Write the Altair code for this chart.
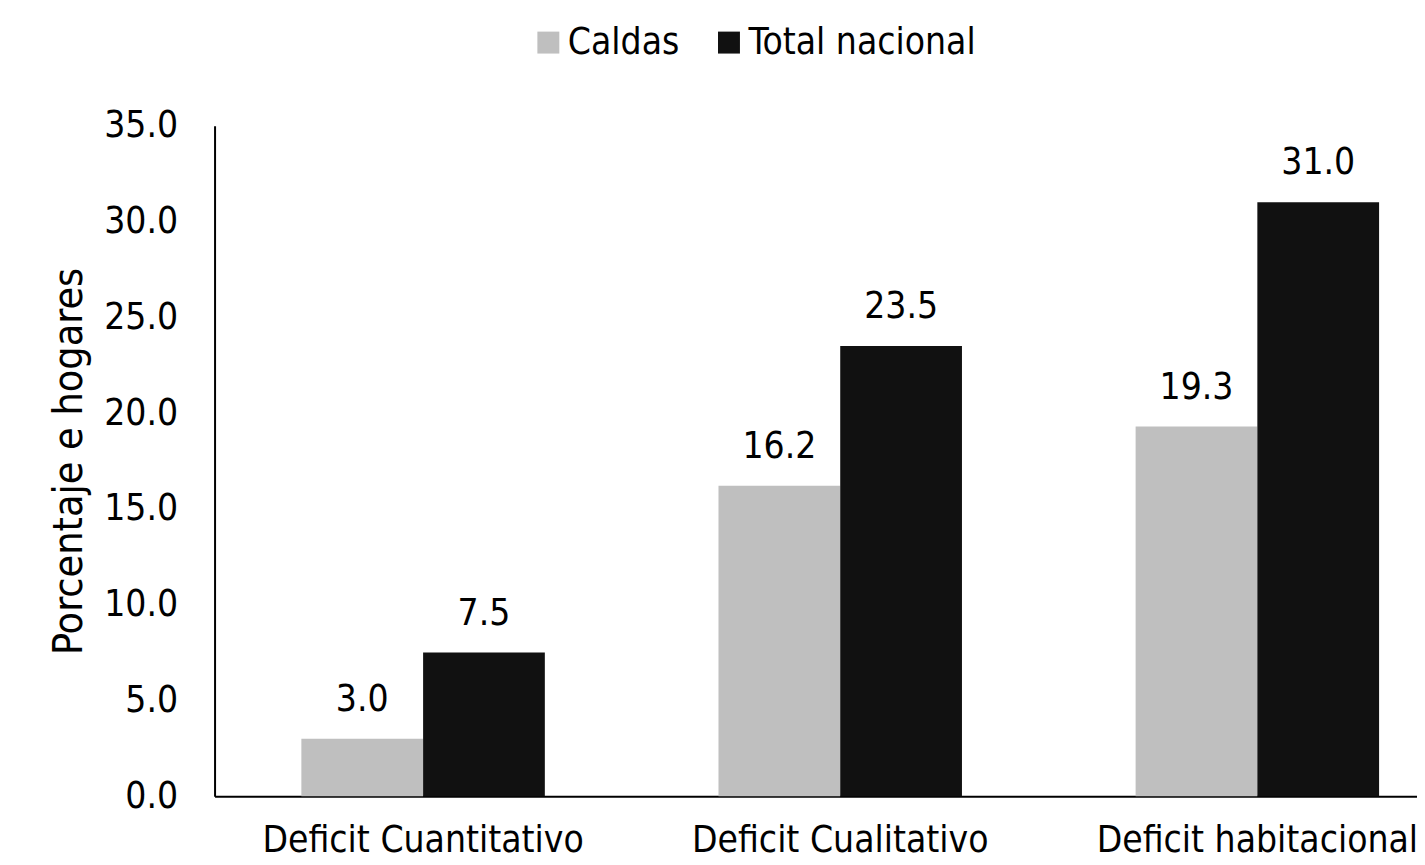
import altair as alt
import pandas as pd

categorias = ["Deficit Cuantitativo", "Deficit Cualitativo", "Deficit habitacional"]
series = ["Caldas", "Total nacional"]
caldas = [3.0, 16.2, 19.3]
total_nacional = [7.5, 23.5, 31.0]
colores = ["#BFBFBF", "#111111"]
y_ticks = [0, 5, 10, 15, 20, 25, 30, 35]

rows = []
for i, c in enumerate(categorias):
    rows.append({"cat": c, "serie": series[0], "valor": caldas[i]})
    rows.append({"cat": c, "serie": series[1], "valor": total_nacional[i]})
df = pd.DataFrame(rows)

FONT = "DejaVu Sans Condensed, Liberation Sans, sans-serif"
FS = 37

x_enc = alt.X(
    "cat:N",
    sort=categorias,
    title=None,
    scale=alt.Scale(paddingInner=0.4163, paddingOuter=0.1495, align=0.696),
    axis=alt.Axis(
        labelAngle=0,
        labelFontSize=FS,
        labelFont=FONT,
        labelColor="#000000",
        labelBaseline="alphabetic",
        labelPadding=55,
        ticks=False,
        tickSize=0,
        domainColor="#000000",
        domainWidth=2,
        grid=False,
        labelLimit=500,
    ),
)
xo_enc = alt.XOffset("serie:N", sort=series, scale=alt.Scale(paddingInner=0, paddingOuter=0))
y_enc = alt.Y(
    "valor:Q",
    scale=alt.Scale(domain=[0, 35], nice=False),
    axis=alt.Axis(
        values=y_ticks,
        format=".1f",
        title="Porcentaje e hogares",
        titleFont=FONT,
        titleFontSize=41,
        titleFontWeight="normal",
        titleColor="#000000",
        titleAngle=270,
        titleX=-133,
        titleY=336,
        titleAlign="center",
        titleBaseline="alphabetic",
        labelFontSize=FS,
        labelFont=FONT,
        labelColor="#000000",
        labelPadding=37,
        ticks=False,
        tickSize=0,
        domainColor="#000000",
        domainWidth=2,
        grid=False,
    ),
)

bars = alt.Chart(df).mark_bar().encode(
    x=x_enc,
    xOffset=xo_enc,
    y=y_enc,
    color=alt.Color(
        "serie:N",
        sort=series,
        scale=alt.Scale(domain=series, range=colores),
        legend=alt.Legend(
            title=None,
            orient="none",
            direction="horizontal",
            legendX=316,
            legendY=-102,
            symbolType="square",
            symbolSize=484,
            symbolStrokeWidth=0,
            labelFontSize=FS,
            labelFont=FONT,
            labelColor="#000000",
            labelOffset=1,
            columnPadding=31,
            labelLimit=500,
            padding=0,
        ),
    ),
)

labels = alt.Chart(df).mark_text(
    fontSize=FS, font=FONT, color="#000000", baseline="alphabetic", dy=-28
).encode(
    x=alt.X("cat:N", sort=categorias),
    xOffset=alt.XOffset("serie:N", sort=series),
    y=alt.Y("valor:Q"),
    text=alt.Text("valor:Q", format=".1f"),
)

chart = (
    alt.layer(bars, labels)
    .properties(
        width=1205,
        height=672,
        autosize=alt.AutoSizeParams(type="none"),
        padding={"left": 207, "top": 117, "right": 0, "bottom": 64},
        background="#ffffff",
    )
    .configure_view(stroke=None)
)

chart.save("out.html", embed_options={"renderer": "svg", "actions": False})
